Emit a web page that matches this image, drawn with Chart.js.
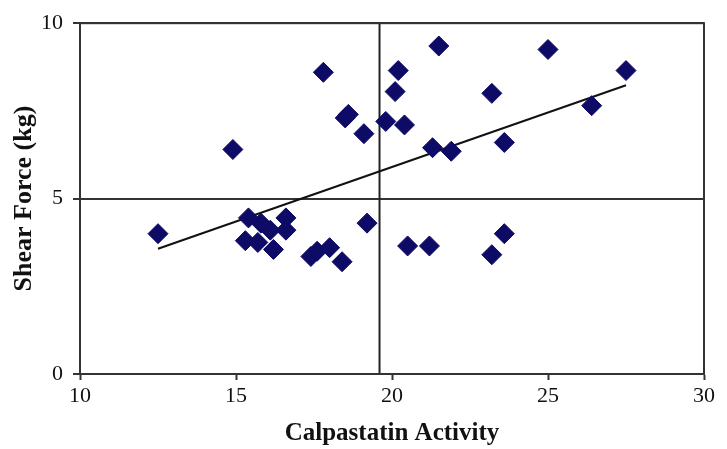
<!DOCTYPE html>
<html>
<head>
<meta charset="utf-8">
<script src="https://cdn.jsdelivr.net/npm/chart.js"></script>
<style>
  html, body { margin: 0; padding: 0; background: #fff; }
  #wrap { width: 727px; height: 449px; }
</style>
</head>
<body>
<div id="wrap"><canvas id="chart" width="727" height="449"></canvas></div>
<script>
// values
const calpastatin = [12.5, 14.9, 15.4, 15.8, 16.1, 16.6, 16.6, 15.3, 15.7, 16.2, 17.4, 17.6, 18.0, 18.4, 19.2,
  17.8, 18.5, 18.6, 19.1, 19.8, 20.2, 20.1, 20.4, 21.5, 25.0, 27.5, 23.2, 26.4, 21.3, 21.9, 23.6,
  20.5, 21.2, 23.6, 23.2];
const shearForce = [4.0, 6.4, 4.45, 4.3, 4.1, 4.45, 4.1, 3.8, 3.75, 3.55, 3.35, 3.5, 3.6, 3.2, 4.3,
  8.6, 7.3, 7.4, 6.85, 7.2, 8.65, 8.05, 7.1, 9.35, 9.25, 8.65, 8.0, 7.65, 6.45, 6.35, 6.6,
  3.65, 3.65, 4.0, 3.4];
const trendX = [12.5, 27.5];
const trendY = [3.57, 8.23];
const splitX = 19.6;
const xTicks = [10, 15, 20, 25, 30];
const yTicks = [0, 5, 10];

const points = calpastatin.map((x, i) => ({ x: x, y: shearForce[i] }));
const trend = trendX.map((x, i) => ({ x: x, y: trendY[i] }));
const split = [{ x: splitX, y: 0 }, { x: splitX, y: 10 }];

// frame round the plot area
const frame = {
  id: 'frame',
  afterDraw(chart) {
    const a = chart.chartArea, ctx = chart.ctx;
    ctx.save();
    ctx.strokeStyle = '#333';
    ctx.lineWidth = 2;
    ctx.strokeRect(a.left, a.top, a.right - a.left, a.bottom - a.top);
    ctx.restore();
  }
};

new Chart(document.getElementById('chart'), {
  type: 'scatter',
  data: {
    datasets: [
      {
        data: points,
        pointStyle: 'rectRot',
        pointRadius: 10,
        pointHoverRadius: 10,
        backgroundColor: '#0e0b66',
        borderColor: '#0e0b66',
        borderWidth: 1,
        order: 1
      },
      {
        data: trend,
        showLine: true,
        pointRadius: 0,
        borderColor: '#111',
        borderWidth: 2,
        order: 2
      },
      {
        data: split,
        showLine: true,
        pointRadius: 0,
        borderColor: '#222',
        borderWidth: 2,
        order: 3
      }
    ]
  },
  options: {
    responsive: false,
    animation: false,
    layout: { padding: { top: 23, right: 23, left: 0, bottom: 0 } },
    plugins: { legend: { display: false }, tooltip: { enabled: false } },
    scales: {
      x: {
        type: 'linear',
        min: 10, max: 30,
        afterBuildTicks: s => { s.ticks = xTicks.map(v => ({ value: v })); },
        afterFit: s => { s.height = 75; },
        grid: { drawOnChartArea: false, drawTicks: true, tickLength: 6, tickColor: '#333', tickWidth: 2 },
        border: { color: '#333', width: 2 },
        ticks: { color: '#111', font: { family: 'Liberation Serif', size: 22 }, padding: 3, maxRotation: 0 },
        title: {
          display: true,
          text: 'Calpastatin Activity',
          color: '#111',
          font: { family: 'Liberation Serif', size: 25, weight: 'bold' },
          padding: { top: 0, bottom: 0 }
        }
      },
      y: {
        type: 'linear',
        min: 0, max: 10,
        afterBuildTicks: s => { s.ticks = yTicks.map(v => ({ value: v })); },
        afterFit: s => { s.width = 80; },
        grid: { drawOnChartArea: true, color: '#333', lineWidth: 2, drawTicks: true, tickLength: 7, tickColor: '#333', tickWidth: 2 },
        border: { color: '#333', width: 2 },
        ticks: { color: '#111', font: { family: 'Liberation Serif', size: 22 }, padding: 10 },
        title: {
          display: true,
          text: 'Shear Force (kg)',
          color: '#111',
          font: { family: 'Liberation Serif', size: 26, weight: 'bold' },
          padding: { top: 9, bottom: 0 }
        }
      }
    }
  },
  plugins: [frame]
});
</script>
</body>
</html>
